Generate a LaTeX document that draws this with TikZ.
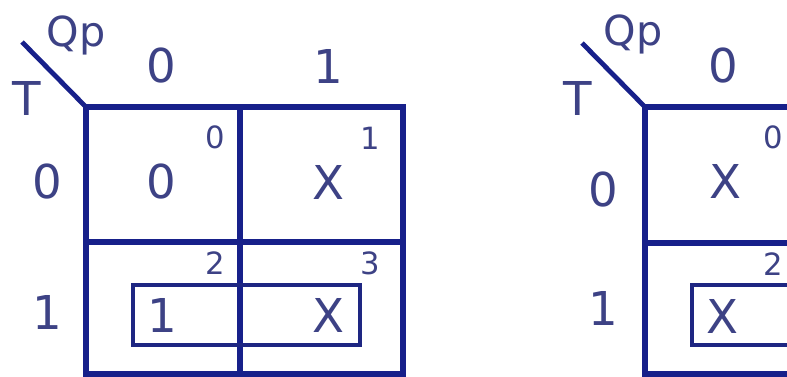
\documentclass[tikz,border=0pt]{standalone}
\usepackage{fontspec}
\setmainfont{DejaVu Sans}
\usepackage{tikz}
\definecolor{KmapLine}{HTML}{17208A}
\definecolor{KmapText}{HTML}{3D4285}
\definecolor{KmapGroup}{HTML}{1E2682}

\begin{document}
\begin{tikzpicture}[x=0.75pt,y=-0.75pt]
    \tikzset{gridline/.style={KmapLine,line width=4.8pt,line cap=rect},
      groupbox/.style={KmapGroup,line width=2.7pt},
      bigtxt/.style={inner sep=0pt,text=KmapText,font=\fontsize{35}{40}\selectfont},
      celltxt/.style={inner sep=0pt,text=KmapText,font=\fontsize{35}{40}\selectfont},
      idxtxt/.style={inner sep=0pt,text=KmapText,font=\fontsize{23}{26}\selectfont},
      vartxt/.style={inner sep=0pt,text=KmapText,font=\fontsize{31}{34}\selectfont}}
    \useasboundingbox (0,0) rectangle (787,376);
    \clip (0,0) rectangle (787,376);
    % left map
    \coordinate (lc) at (86,107);
    \coordinate (ld) at (22,42);
    \draw[KmapLine,line width=3.6pt] (ld)--(lc);
    \draw[gridline] (lc)--(403,107)--(403,374)--(86,374)--cycle;
    \draw[gridline] (240,107)--(240,374);
    \draw[gridline] (86,242)--(403,242);
    \draw[groupbox] (133,285) rectangle (360,345);
    \node[vartxt] (lqp) at (76,35) {Qp};
    \node[bigtxt] (lt) at (27,98) {T};
    \node[bigtxt] (lc0) at (161,66) {0};
    \node[bigtxt] (lc1) at (328,66) {1};
    \node[bigtxt] (lr0) at (47,182) {0};
    \node[bigtxt] (lr1) at (47,312) {1};
    \node[celltxt] (lm0) at (161,182) {0};
    \node[celltxt] (lm1) at (328,182) {X};
    \node[celltxt] (lm2) at (162,315) {1};
    \node[celltxt] (lm3) at (328,315) {X};
    \node[idxtxt] (li0) at (215,137) {0};
    \node[idxtxt] (li1) at (370,138) {1};
    \node[idxtxt] (li2) at (215,263) {2};
    \node[idxtxt] (li3) at (370,263) {3};
    % right map (cut off at the page edge)
    \coordinate (rc) at (645,107);
    \coordinate (rd) at (582,43);
    \draw[KmapLine,line width=3.6pt] (rd)--(rc);
    \draw[gridline] (rc)--(900,107);
    \draw[gridline] (rc)--(645,374)--(900,374);
    \draw[gridline] (645,243)--(900,243);
    \draw[groupbox] (692,285) rectangle (920,345);
    \node[vartxt] (rqp) at (633,34) {Qp};
    \node[bigtxt] (rt) at (578,98) {T};
    \node[bigtxt] (rc0) at (723,66) {0};
    \node[bigtxt] (rr0) at (603,190) {0};
    \node[bigtxt] (rr1) at (603,308) {1};
    \node[celltxt] (rm0) at (725,181) {X};
    \node[celltxt] (rm2) at (722,316) {X};
    \node[idxtxt] (ri0) at (773,137) {0};
    \node[idxtxt] (ri2) at (773,264) {2};
  \end{tikzpicture}
\end{document}
